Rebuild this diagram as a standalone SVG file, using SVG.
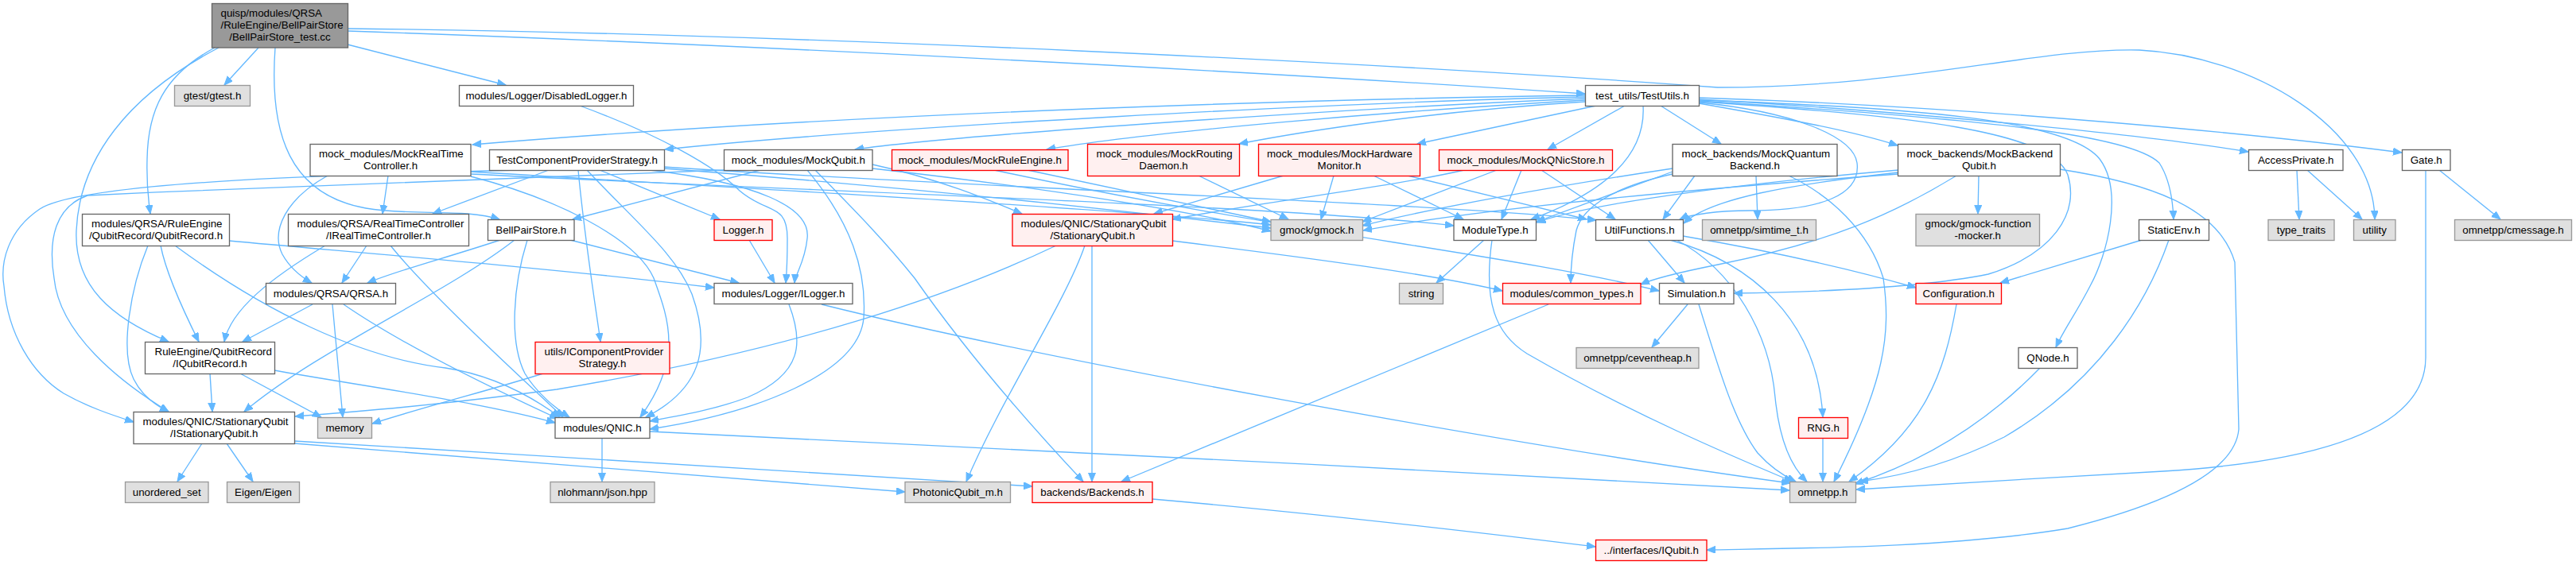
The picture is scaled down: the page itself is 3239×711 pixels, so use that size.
<svg xmlns="http://www.w3.org/2000/svg" width="3239" height="711" viewBox="0 0 3239 711">
<style>
rect{stroke-width:1.33}
.w rect{fill:#fff;stroke:#666}
.g rect{fill:#e0e0e0;stroke:#999}
.r rect{fill:#fff0f0;stroke:#f00}
.k rect{fill:#999;stroke:#666}
text{font-family:"Liberation Sans",Arial,Helvetica,sans-serif;font-size:13.33px;fill:#000}
.m{text-anchor:middle}
#edges path{fill:none;stroke:#63b8ff;stroke-width:1.33;marker-end:url(#a)}
</style>
<defs>
<marker id="a" markerUnits="userSpaceOnUse" markerWidth="12" markerHeight="10" refX="11" refY="4.5" orient="auto" viewBox="0 0 12 10"><path d="M0,0 L11,4.5 L0,9 z" fill="#63b8ff" stroke="#63b8ff" stroke-width="1"/></marker>
</defs>
<rect width="3239" height="711" fill="#fff"/>
<g id="edges">
<path d="M325,60 L282,107"/>
<path d="M270,60 C205,95 186,140 185,200 C184,235 187,255 189,269"/>
<path d="M275,60 C160,120 100,200 96,290 C93,360 140,400 212,430"/>
<path d="M346,60 C338,170 365,245 460,262 C520,272 585,262 628,276"/>
<path d="M437,56 L636,107"/>
<path d="M437,39 C900,55 1500,85 1993,118"/>
<path d="M437,36 C1000,42 1750,80 2160,110 C2400,110 2560,60 2690,63 C2830,70 2985,160 2986,276"/>
<path d="M1993,120 C1700,124 1100,140 594,182"/>
<path d="M1993,122 C1700,128 1100,160 836,188"/>
<path d="M1993,124 C1700,136 1200,170 1075,188"/>
<path d="M1993,126 C1750,140 1450,165 1316,188"/>
<path d="M1993,128 C1800,140 1640,165 1558,181"/>
<path d="M2007,133 L1782,181"/>
<path d="M2043,133 L1946,188"/>
<path d="M2066,133 C2070,200 2010,245 1925,276"/>
<path d="M2088,133 L2164,181"/>
<path d="M2136,130 C2250,150 2330,165 2386,183"/>
<path d="M2136,125 C2400,140 2700,170 2827,191"/>
<path d="M2136,123 C2500,135 2850,170 3020,192"/>
<path d="M2136,127 C2500,150 2680,170 2715,205 C2728,225 2732,250 2733,276"/>
<path d="M2136,126 C2400,135 2600,150 2640,200 C2670,240 2650,320 2628,360 C2610,395 2595,415 2585,437"/>
<path d="M2136,128 C2400,145 2580,165 2600,220 C2615,270 2580,320 2500,345 C2400,365 2250,368 2180,369"/>
<path d="M2136,129 C2250,140 2330,170 2335,205 C2340,245 2290,265 2200,265 C2160,265 2125,270 2112,276"/>
<path d="M488,221 L481,269"/>
<path d="M412,221 C360,250 340,290 355,320 C365,338 378,348 392,356"/>
<path d="M592,222 C700,250 800,300 822,350 C840,400 860,450 805,525"/>
<path d="M592,216 C900,235 1400,262 1598,283"/>
<path d="M592,219 C1000,240 1600,258 1828,284"/>
<path d="M652,214 C400,220 100,230 50,263 C10,290 0,330 5,360 C10,420 40,470 80,495 C110,512 140,522 168,531"/>
<path d="M690,214 L544,269"/>
<path d="M727,214 C735,300 748,380 755,430"/>
<path d="M754,214 L905,276"/>
<path d="M817,214 C950,230 1020,260 1015,300 C1012,330 1000,345 999,356"/>
<path d="M738,214 C800,280 850,320 870,370 C895,440 880,490 812,525"/>
<path d="M835,210 C1200,235 1800,255 2007,277"/>
<path d="M835,212 C1200,240 1450,270 1598,287"/>
<path d="M911,214 C700,222 400,232 110,246 C70,260 60,300 68,350 C75,420 150,480 212,518"/>
<path d="M956,214 L720,276"/>
<path d="M1015,214 C1070,280 1090,340 1086,400 C1080,470 950,520 817,540"/>
<path d="M1025,214 C1070,260 1110,300 1150,350 C1220,450 1300,540 1362,606"/>
<path d="M1097,207 C1180,225 1240,250 1285,269"/>
<path d="M1097,212 C1300,235 1500,265 1598,291"/>
<path d="M1292,214 L1598,279"/>
<path d="M1250,214 C1600,290 1900,320 2086,366"/>
<path d="M1507,221 L1620,276"/>
<path d="M1614,221 L1451,269"/>
<path d="M1677,221 L1661,276"/>
<path d="M1727,221 L1840,276"/>
<path d="M1770,221 L1995,276"/>
<path d="M1841,214 C1750,235 1600,252 1474,276"/>
<path d="M1882,214 L1713,279"/>
<path d="M1913,214 L1888,276"/>
<path d="M1938,214 L2031,276"/>
<path d="M2103,212 C1950,235 1800,262 1713,284"/>
<path d="M2103,216 L1932,279"/>
<path d="M2131,221 L2091,276"/>
<path d="M2103,219 C2030,235 1990,260 1982,290 C1976,320 1975,340 1975,356"/>
<path d="M2208,221 L2210,276"/>
<path d="M2249,221 C2300,245 2350,290 2368,350 C2378,420 2370,480 2306,606"/>
<path d="M2387,214 C2200,230 2000,255 1932,280"/>
<path d="M2387,217 C2250,232 2150,250 2117,281"/>
<path d="M2387,219 C2100,240 1850,265 1714,290"/>
<path d="M2460,221 C2380,270 2300,305 2160,333 C2110,343 2080,350 2063,358"/>
<path d="M2488,221 L2487,269"/>
<path d="M2590,213 C2700,230 2790,260 2810,330 L2815,540 C2810,600 2700,640 2600,665 C2450,690 2250,690 2146,692"/>
<path d="M2888,214 L2891,276"/>
<path d="M2901,214 L2970,276"/>
<path d="M3067,214 L3144,276"/>
<path d="M3050,214 L3050,450 C3050,560 2850,585 2720,593 C2600,600 2420,610 2334,616"/>
<path d="M2693,302 L2515,356"/>
<path d="M2727,302 C2700,380 2640,480 2520,550 C2460,580 2400,598 2338,606"/>
<path d="M2565,463 C2500,530 2420,580 2332,609"/>
<path d="M2460,383 C2445,470 2420,540 2325,606"/>
<path d="M2292,551 L2292,606"/>
<path d="M2100,302 C2200,330 2285,400 2292,525"/>
<path d="M2108,302 C2180,340 2225,420 2232,500 C2238,560 2255,590 2272,606"/>
<path d="M2072,302 L2118,356"/>
<path d="M2116,297 C2250,320 2350,345 2409,362"/>
<path d="M2122,383 L2077,437"/>
<path d="M2136,383 C2160,460 2180,530 2210,570 C2228,590 2245,600 2258,606"/>
<path d="M1866,302 L1806,356"/>
<path d="M1876,302 C1865,380 1880,420 1920,445 C2050,520 2180,575 2254,606"/>
<path d="M1947,383 L1410,606"/>
<path d="M1328,309 C1200,370 1000,440 700,490 C550,510 450,518 371,524"/>
<path d="M1364,309 C1340,380 1260,500 1215,606"/>
<path d="M1373,309 L1373,606"/>
<path d="M1474,303 C1650,325 1800,345 1889,366"/>
<path d="M992,383 C1010,430 1010,470 940,500 C900,515 860,522 817,530"/>
<path d="M1033,383 C1300,450 1900,560 2251,608"/>
<path d="M942,302 L974,356"/>
<path d="M729,133 C830,170 900,210 930,240 C965,270 990,255 990,300 C990,330 989,345 988,356"/>
<path d="M629,302 C560,325 500,340 462,356"/>
<path d="M647,302 C560,370 400,440 307,518"/>
<path d="M663,302 C645,360 640,430 660,470 C675,495 700,515 716,525"/>
<path d="M717,302 L929,356"/>
<path d="M202,309 C208,340 230,390 250,430"/>
<path d="M186,309 C165,360 150,440 168,477 C178,497 195,510 212,518"/>
<path d="M220,309 C330,390 450,450 560,463 C620,472 670,500 704,525"/>
<path d="M288,303 C450,318 700,338 898,362"/>
<path d="M409,309 C340,350 290,390 282,430"/>
<path d="M461,309 L430,356"/>
<path d="M491,309 C540,370 650,470 708,525"/>
<path d="M393,383 L305,430"/>
<path d="M418,383 L431,525"/>
<path d="M432,383 C500,430 600,480 702,527"/>
<path d="M264,470 L267,518"/>
<path d="M302,470 L404,525"/>
<path d="M345,466 C450,485 600,505 698,532"/>
<path d="M683,470 C620,490 540,510 468,533"/>
<path d="M254,558 L223,606"/>
<path d="M285,558 L318,606"/>
<path d="M370,555 C700,575 1100,598 1298,612"/>
<path d="M370,558 C700,585 1000,608 1138,619"/>
<path d="M757,551 L757,606"/>
<path d="M817,543 C1200,560 1800,592 2250,617"/>
<path d="M1449,628 C1700,650 1900,675 2006,688"/>
</g>
<g id="n0" class="k"><rect x="266.5" y="4.5" width="171" height="55.5"/><text x="277.5" y="20.5">quisp/modules/QRSA</text><text x="277.5" y="35.5">/RuleEngine/BellPairStore</text><text class="m" x="352" y="50.5">/BellPairStore_test.cc</text></g>
<g id="n1" class="g"><rect x="219.5" y="107.5" width="95" height="26"/><text class="m" x="267" y="125">gtest/gtest.h</text></g>
<g id="n2" class="w"><rect x="577.5" y="107.5" width="219" height="26"/><text class="m" x="687" y="125">modules/Logger/DisabledLogger.h</text></g>
<g id="n3" class="w"><rect x="1993.5" y="107.5" width="143" height="26"/><text class="m" x="2065" y="125">test_utils/TestUtils.h</text></g>
<g id="n4" class="w"><rect x="390" y="181.5" width="202" height="40"/><text x="401" y="198">mock_modules/MockRealTime</text><text class="m" x="491" y="212.5">Controller.h</text></g>
<g id="n5" class="w"><rect x="615.5" y="188.5" width="220" height="26"/><text class="m" x="725.5" y="206">TestComponentProviderStrategy.h</text></g>
<g id="n6" class="w"><rect x="910.5" y="188.5" width="186.5" height="26"/><text class="m" x="1003.75" y="206">mock_modules/MockQubit.h</text></g>
<g id="n7" class="r"><rect x="1121.5" y="188.5" width="221.5" height="26"/><text class="m" x="1232.25" y="206">mock_modules/MockRuleEngine.h</text></g>
<g id="n8" class="r"><rect x="1367.5" y="181.5" width="191" height="40"/><text x="1378.5" y="198">mock_modules/MockRouting</text><text class="m" x="1463" y="212.5">Daemon.h</text></g>
<g id="n9" class="r"><rect x="1582.5" y="181.5" width="203" height="40"/><text x="1593" y="198">mock_modules/MockHardware</text><text class="m" x="1684" y="212.5">Monitor.h</text></g>
<g id="n10" class="r"><rect x="1809.5" y="188.5" width="218" height="26"/><text class="m" x="1918.5" y="206">mock_modules/MockQNicStore.h</text></g>
<g id="n11" class="w"><rect x="2103" y="181.5" width="207" height="40"/><text x="2114.5" y="198">mock_backends/MockQuantum</text><text class="m" x="2206.5" y="212.5">Backend.h</text></g>
<g id="n12" class="w"><rect x="2386.5" y="181.5" width="204" height="40"/><text x="2397.5" y="198">mock_backends/MockBackend</text><text class="m" x="2488.5" y="212.5">Qubit.h</text></g>
<g id="n13" class="w"><rect x="2827.5" y="188.5" width="118.5" height="26"/><text class="m" x="2886.75" y="206">AccessPrivate.h</text></g>
<g id="n14" class="w"><rect x="3020.5" y="188.5" width="60.5" height="26"/><text class="m" x="3050.75" y="206">Gate.h</text></g>
<g id="n15" class="w"><rect x="103.5" y="269.5" width="185" height="40"/><text x="115" y="286">modules/QRSA/RuleEngine</text><text class="m" x="196" y="300.5">/QubitRecord/QubitRecord.h</text></g>
<g id="n16" class="w"><rect x="362.5" y="269.5" width="227" height="40"/><text x="373.5" y="286">modules/QRSA/RealTimeController</text><text class="m" x="476" y="300.5">/IRealTimeController.h</text></g>
<g id="n17" class="w"><rect x="613.5" y="276.5" width="108.5" height="26"/><text class="m" x="667.75" y="294">BellPairStore.h</text></g>
<g id="n18" class="r"><rect x="898" y="276.5" width="73" height="26"/><text class="m" x="934.5" y="294">Logger.h</text></g>
<g id="n19" class="r"><rect x="1273" y="269.5" width="201.5" height="40"/><text x="1283.5" y="286">modules/QNIC/StationaryQubit</text><text class="m" x="1373.75" y="300.5">/StationaryQubit.h</text></g>
<g id="n20" class="g"><rect x="1598" y="276.5" width="115.5" height="26"/><text class="m" x="1655.75" y="294">gmock/gmock.h</text></g>
<g id="n21" class="w"><rect x="1828" y="276.5" width="103.5" height="26"/><text class="m" x="1879.75" y="294">ModuleType.h</text></g>
<g id="n22" class="w"><rect x="2006.5" y="276.5" width="110" height="26"/><text class="m" x="2061.5" y="294">UtilFunctions.h</text></g>
<g id="n23" class="g"><rect x="2140.5" y="276.5" width="143" height="26"/><text class="m" x="2212" y="294">omnetpp/simtime_t.h</text></g>
<g id="n24" class="g"><rect x="2409" y="269.5" width="155.5" height="40"/><text x="2420.5" y="286">gmock/gmock-function</text><text class="m" x="2486.75" y="300.5">-mocker.h</text></g>
<g id="n25" class="w"><rect x="2689.5" y="276.5" width="88" height="26"/><text class="m" x="2733.5" y="294">StaticEnv.h</text></g>
<g id="n26" class="g"><rect x="2852" y="276.5" width="83" height="26"/><text class="m" x="2893.5" y="294">type_traits</text></g>
<g id="n27" class="g"><rect x="2959.5" y="276.5" width="52.5" height="26"/><text class="m" x="2985.75" y="294">utility</text></g>
<g id="n28" class="g"><rect x="3086.5" y="276.5" width="147" height="26"/><text class="m" x="3160" y="294">omnetpp/cmessage.h</text></g>
<g id="n29" class="w"><rect x="334.5" y="356.5" width="163" height="26"/><text class="m" x="416" y="374">modules/QRSA/QRSA.h</text></g>
<g id="n30" class="w"><rect x="898" y="356.5" width="174" height="26"/><text class="m" x="985" y="374">modules/Logger/ILogger.h</text></g>
<g id="n31" class="g"><rect x="1759.5" y="356.5" width="55" height="26"/><text class="m" x="1787" y="374">string</text></g>
<g id="n32" class="r"><rect x="1889.5" y="356.5" width="173.5" height="26"/><text class="m" x="1976.25" y="374">modules/common_types.h</text></g>
<g id="n33" class="w"><rect x="2086.5" y="356.5" width="93.5" height="26"/><text class="m" x="2133.25" y="374">Simulation.h</text></g>
<g id="n34" class="r"><rect x="2409" y="356.5" width="107.5" height="26"/><text class="m" x="2462.75" y="374">Configuration.h</text></g>
<g id="n35" class="w"><rect x="182.5" y="430.5" width="163" height="40"/><text x="194.5" y="447">RuleEngine/QubitRecord</text><text class="m" x="264" y="461.5">/IQubitRecord.h</text></g>
<g id="n36" class="r"><rect x="673" y="430.5" width="169" height="40"/><text x="684.5" y="447">utils/IComponentProvider</text><text class="m" x="757.5" y="461.5">Strategy.h</text></g>
<g id="n37" class="g"><rect x="1982" y="437.5" width="154" height="26"/><text class="m" x="2059" y="455">omnetpp/ceventheap.h</text></g>
<g id="n38" class="w"><rect x="2538" y="437.5" width="74" height="26"/><text class="m" x="2575" y="455">QNode.h</text></g>
<g id="n39" class="w"><rect x="168" y="518.5" width="202.5" height="40"/><text x="179.5" y="535">modules/QNIC/StationaryQubit</text><text class="m" x="269.25" y="549.5">/IStationaryQubit.h</text></g>
<g id="n40" class="g"><rect x="399.5" y="525.5" width="68" height="26"/><text class="m" x="433.5" y="543">memory</text></g>
<g id="n41" class="w"><rect x="698" y="525.5" width="119" height="26"/><text class="m" x="757.5" y="543">modules/QNIC.h</text></g>
<g id="n42" class="r"><rect x="2261.5" y="525.5" width="62" height="26"/><text class="m" x="2292.5" y="543">RNG.h</text></g>
<g id="n43" class="g"><rect x="157.5" y="606.5" width="104.5" height="26"/><text class="m" x="209.75" y="624">unordered_set</text></g>
<g id="n44" class="g"><rect x="285.5" y="606.5" width="91" height="26"/><text class="m" x="331" y="624">Eigen/Eigen</text></g>
<g id="n45" class="g"><rect x="692" y="606.5" width="131" height="26"/><text class="m" x="757.5" y="624">nlohmann/json.hpp</text></g>
<g id="n46" class="g"><rect x="1138" y="606.5" width="132.5" height="26"/><text class="m" x="1204.25" y="624">PhotonicQubit_m.h</text></g>
<g id="n47" class="r"><rect x="1298" y="606.5" width="151" height="26"/><text class="m" x="1373.5" y="624">backends/Backends.h</text></g>
<g id="n48" class="g"><rect x="2250.5" y="606.5" width="83" height="26"/><text class="m" x="2292" y="624">omnetpp.h</text></g>
<g id="n49" class="r"><rect x="2006.5" y="679.5" width="139.5" height="26"/><text class="m" x="2076.25" y="697">../interfaces/IQubit.h</text></g>
</svg>
